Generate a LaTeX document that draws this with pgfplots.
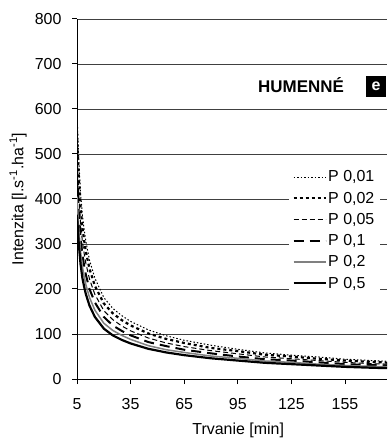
\documentclass[border=0pt]{standalone}
\usepackage{fontspec}
\setmainfont{Liberation Sans}
\usepackage{pgfplots}
\pgfplotsset{compat=1.18}
\begin{document}
\begin{tikzpicture}
\begin{axis}[
  scale only axis, width=310bp, height=360bp,
  xmin=5, xmax=178.5, ymin=0, ymax=800,
  xtick={5,35,65,95,125,155}, ytick={0,100,...,800},
  axis x line*=bottom, axis y line*=left,
  axis line style={-, black, line width=1bp},
  tick align=outside, major tick length=5bp,
  tick style={black, line width=1bp},
  ymajorgrids, major grid style={black!75, line width=0.9bp},
  /pgf/number format/assume math mode=true,
  ticklabel style={font=\fontsize{16}{19}\selectfont},
  xticklabel style={yshift=-11bp},
  yticklabel style={xshift=-7bp},
  label style={font=\fontsize{16}{19}\selectfont},
  xlabel={Trvanie [min]},
  ylabel={Intenzita [l.s\textsuperscript{-1}.ha\textsuperscript{-1}]},
  xlabel style={at={(axis description cs:0.52,-0.1417)}, anchor=center},
  ylabel style={at={(axis description cs:-0.19,0.5)}, anchor=center},
  legend cell align=left,
  legend image code/.code={\draw[#1] (0bp,0bp) -- (32bp,0bp);},
  legend style={at={(rel axis cs:1,0.594)}, anchor=north east, xshift=-7bp, yshift=-2bp,
    draw=none, fill=white,
    font=\fontsize{16}{19}\selectfont, row sep=5.6bp, inner xsep=4bp,
    nodes={inner sep=1.5bp}},
]
\addplot[black, line width=1bp, dash pattern=on 1.5bp off 2bp] coordinates {
(5,591) (6,486) (7,413) (8,365) (9,332) (10,305) (12,264) (15,224) (20,181) (25,157) (30,141) (35,128) (45,109) (55,96) (65,86) (80,75) (95,66) (110,58) (125,53) (140,49) (155,44) (170,41) (180,39)};
\addlegendentry{P 0,01}
\addplot[black, line width=2.2bp, dash pattern=on 3bp off 3bp] coordinates {
(5,548) (6,450) (7,383) (8,338) (9,308) (10,282) (12,245) (15,207) (20,168) (25,146) (30,131) (35,119) (45,101) (55,89) (65,80) (80,69) (95,62) (110,54) (125,50) (140,45) (155,41) (170,38) (180,36)};
\addlegendentry{P 0,02}
\addplot[black, line width=1bp, dash pattern=on 5bp off 3bp] coordinates {
(5,496) (6,408) (7,347) (8,306) (9,279) (10,256) (12,222) (15,188) (20,152) (25,132) (30,118) (35,107) (45,91) (55,80) (65,72) (80,63) (95,56) (110,49) (125,45) (140,41) (155,37) (170,34) (180,33)};
\addlegendentry{P 0,05}
\addplot[black, line width=2bp, dash pattern=on 10bp off 6bp] coordinates {
(5,449) (6,369) (7,314) (8,277) (9,252) (10,231) (12,200) (15,170) (20,138) (25,119) (30,107) (35,97) (45,82) (55,73) (65,65) (80,57) (95,50) (110,44) (125,41) (140,37) (155,33) (170,31) (180,30)};
\addlegendentry{P 0,1}
\addplot[black!50, line width=1.5bp] coordinates {
(5,405) (6,333) (7,283) (8,250) (9,228) (10,209) (12,181) (15,153) (20,124) (25,108) (30,97) (35,88) (45,74) (55,65) (65,59) (80,51) (95,46) (110,40) (125,37) (140,33) (155,30) (170,28) (180,27)};
\addlegendentry{P 0,2}
\addplot[black, line width=2.2bp] coordinates {
(5,365) (6,300) (7,255) (8,225) (9,205) (10,188) (12,163) (15,138) (20,112) (25,97) (30,87) (35,79) (45,67) (55,59) (65,53) (80,46) (95,41) (110,36) (125,33) (140,30) (155,27) (170,25) (180,24)};
\addlegendentry{P 0,5}
\node[font=\bfseries\fontsize{17}{20}\selectfont] at (rel axis cs:0.7226,0.8167) {HUMENNÉ};
\node[fill=black, text=white, font=\bfseries\fontsize{16}{19}\selectfont, minimum width=20bp, minimum height=21bp, inner sep=0pt] at (rel axis cs:0.9645,0.8125) {e};
\coordinate (bl) at (rel axis cs:0,0);
\coordinate (tr) at (rel axis cs:1,1);
\end{axis}
\pgfresetboundingbox
\path ([xshift=-77bp,yshift=-62bp]bl) rectangle ([yshift=19bp]tr);
\end{tikzpicture}
\end{document}
